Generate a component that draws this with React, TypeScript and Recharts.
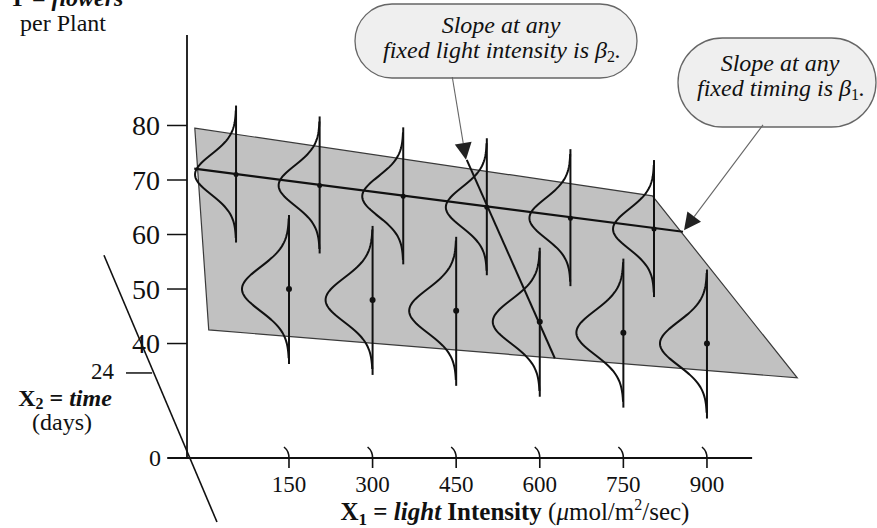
import { ComposedChart, Scatter, XAxis, YAxis, ReferenceLine } from "recharts";

const SERIF = '"Liberation Serif", "Times New Roman", serif';
const INK = "#111111";

// light intensity levels (X1) and flower axis ticks
const lightLevels = [150, 300, 450, 600, 750, 900];
const flowerTicks = [40, 50, 60, 70, 80];

// mean flowers per plant, front row (X2 = 0 days)
const meansLate = [50, 48, 46, 44, 42, 40];
// mean flowers per plant, back row (X2 = 24 days), read against the Y axis
const meansEarly = [71, 69, 67, 65, 63, 61];
// perspective shift of the back row along the light axis
const DEPTH_SHIFT = -95;

// outline of the shaded regression plane in the projected view
const planeLight = [-19, 802, 1062, 6];
const planeFlowers = [79.5, 67.1, 33.7, 42.5];

// line of means for the back row (slope beta1)
const earlyLineLight = [75, 952];
const earlyLineFlowers = [72.1, 60.5];

// line across time at light 600 (slope beta2), projected view
const timeLineLight = [469, 627];
const timeLineFlowers = [73.7, 37.3];

const frontRow = lightLevels.map((l, i) => ({ x: l, y: meansLate[i] }));
const backRow = lightLevels.map((l, i) => ({ x: l + DEPTH_SHIFT, y: meansEarly[i] }));
const planeData = planeLight.map((l, i) => ({ x: l, y: planeFlowers[i] }));
const earlyLine = earlyLineLight.map((l, i) => ({ x: l + DEPTH_SHIFT, y: earlyLineFlowers[i] }));
const timeLine = timeLineLight.map((l, i) => ({ x: l, y: timeLineFlowers[i] }));

// bell-shaped error distribution drawn around each mean
const bell = (amp: number, spread: number, above: number, below: number, dotR: number) =>
  (props: any) => {
    const { cx, cy } = props;
    const pts: string[] = [];
    for (let t = -3.2 * spread; t <= 3.2 * spread; t += 1.5) {
      pts.push(`${cx - amp * Math.exp(-(t * t) / (2 * spread * spread))},${cy + t}`);
    }
    return (
      <g>
        <line x1={cx} y1={cy - above} x2={cx} y2={cy + below} stroke={INK} strokeWidth={2} />
        <polyline points={pts.join(" ")} fill="none" stroke={INK} strokeWidth={2} />
        <circle cx={cx} cy={cy} r={dotR} fill={INK} />
      </g>
    );
  };

const noMark = () => <g />;

const planeShape = (props: any) => {
  const d = props.points.map((p: any, i: number) => `${i ? "L" : "M"}${p.x},${p.y}`).join(" ") + "Z";
  return <path d={d} fill="#c1c1c1" stroke="#3a3a3a" strokeWidth={1.2} />;
};

const arrowShape = (props: any) => {
  const { x1, y1, x2, y2 } = props;
  const a = Math.atan2(y2 - y1, x2 - x1);
  const len = 17;
  const w = 8.5;
  const bx = x2 - len * Math.cos(a);
  const by = y2 - len * Math.sin(a);
  const px = -Math.sin(a) * w;
  const py = Math.cos(a) * w;
  return (
    <g>
      <line x1={x1} y1={y1} x2={bx} y2={by} stroke="#666" strokeWidth={1.1} />
      <path d={`M${x2},${y2} L${bx + px},${by + py} L${bx - px},${by - py} Z`} fill="#222" />
    </g>
  );
};

const LightTick = (props: any) => {
  const { x, y, payload } = props;
  return (
    <g>
      <path d={`M${x - 5},${y - 11} Q${x},${y - 7} ${x},${y} L${x},${y + 10}`} fill="none" stroke={INK} strokeWidth={1.6} />
      <text x={x} y={y + 34} textAnchor="middle" fontSize={23} fontFamily={SERIF} fill={INK}>
        {payload.value}
      </text>
    </g>
  );
};

function Callout({ x, y, w, h, children }: { x: number; y: number; w: number; h: number; children: any }) {
  return (
    <g>
      <rect x={x} y={y} width={w} height={h} rx={h / 2} fill="#efefef" stroke="#666" strokeWidth={1.3} />
      {children}
    </g>
  );
}

export default function App() {
  return (
    <div style={{ position: "absolute", left: 0, top: 0, background: "#fff" }}>
      <ComposedChart width={877} height={528} margin={{ top: 35, right: 0, bottom: 0, left: 0 }}>
        <XAxis
          type="number"
          dataKey="x"
          domain={[-33, 1205.1]}
          allowDataOverflow
          ticks={lightLevels}
          interval={0}
          height={70}
          axisLine={false}
          tickLine={false}
          tickSize={0}
          tickMargin={0}
          tick={<LightTick />}
        />
        <YAxis
          type="number"
          dataKey="y"
          domain={[19, 96.6]}
          allowDataOverflow
          ticks={flowerTicks}
          interval={0}
          width={187}
          tickSize={20}
          tickMargin={7}
          axisLine={{ stroke: INK, strokeWidth: 1.8 }}
          tickLine={{ stroke: INK, strokeWidth: 1.5 }}
          tick={{ fontSize: 28, fontFamily: SERIF, fill: INK }}
        />

        <Scatter data={planeData} shape={noMark} line={planeShape} isAnimationActive={false} />
        <Scatter data={backRow} shape={bell(41, 20, 69, 68, 2.5)} isAnimationActive={false} />
        <Scatter data={frontRow} shape={bell(47, 22, 74, 75, 3)} isAnimationActive={false} />
        <Scatter data={earlyLine} shape={noMark} line={{ stroke: INK, strokeWidth: 2.2 }} isAnimationActive={false} />
        <Scatter data={timeLine} shape={noMark} line={{ stroke: INK, strokeWidth: 2 }} isAnimationActive={false} />

        {/* light axis line */}
        <ReferenceLine segment={[{ x: -68.5, y: 19 }, { x: 981, y: 19 }]} ifOverflow="visible" stroke={INK} strokeWidth={1.8} />
        {/* time axis drawn in perspective */}
        <ReferenceLine segment={[{ x: -182, y: 56.2 }, { x: 20.8, y: 7.25 }]} ifOverflow="visible" stroke={INK} strokeWidth={1.6} />
        <ReferenceLine segment={[{ x: -142.5, y: 34.6 }, { x: -95.6, y: 34.6 }]} ifOverflow="visible" stroke={INK} strokeWidth={1.5} />

        {/* callout pointers */}
        <ReferenceLine segment={[{ x: 443, y: 88.9 }, { x: 467.6, y: 73.7 }]} ifOverflow="visible" shape={arrowShape} />
        <ReferenceLine segment={[{ x: 1000.5, y: 80.1 }, { x: 858.8, y: 60.8 }]} ifOverflow="visible" shape={arrowShape} />

        <g fontFamily={SERIF} fill={INK}>
          <text x={66} y={6} textAnchor="middle" fontSize={24}>
            <tspan fontWeight="bold">Y</tspan>
            <tspan> = </tspan>
            <tspan fontStyle="italic" fontWeight="bold">flowers</tspan>
          </text>
          <text x={63} y={31} textAnchor="middle" fontSize={24}>per Plant</text>

          <text x={114} y={379} textAnchor="end" fontSize={23}>24</text>
          <text x={65} y={406} textAnchor="middle" fontSize={24} fontWeight="bold">
            <tspan>X</tspan>
            <tspan fontSize={16} dy={3}>2</tspan>
            <tspan dy={-3}> = </tspan>
            <tspan fontStyle="italic">time</tspan>
          </text>
          <text x={62} y={430} textAnchor="middle" fontSize={24}>(days)</text>
          <text x={161} y={466} textAnchor="end" fontSize={24}>0</text>

          <text x={515} y={520} textAnchor="middle" fontSize={25}>
            <tspan fontWeight="bold">X</tspan>
            <tspan fontWeight="bold" fontSize={17} dy={5}>1</tspan>
            <tspan fontWeight="bold" dy={-5}> = </tspan>
            <tspan fontWeight="bold" fontStyle="italic">light</tspan>
            <tspan fontWeight="bold"> Intensity</tspan>
            <tspan> (</tspan>
            <tspan fontStyle="italic">μ</tspan>
            <tspan>mol/m</tspan>
            <tspan fontSize={16} dy={-10}>2</tspan>
            <tspan dy={10}>/sec)</tspan>
          </text>

          <Callout x={355} y={4} w={282} h={74}>
            <text x={501} y={33} textAnchor="middle" fontSize={24} fontStyle="italic">Slope at any</text>
            <text x={502} y={58} textAnchor="middle" fontSize={24} fontStyle="italic">
              <tspan>fixed light intensity is </tspan>
              <tspan>β</tspan>
              <tspan fontSize={16} dy={4} fontStyle="normal">2</tspan>
              <tspan dy={-4}>.</tspan>
            </text>
          </Callout>
          <Callout x={678} y={38} w={198} h={89}>
            <text x={780} y={71} textAnchor="middle" fontSize={24} fontStyle="italic">Slope at any</text>
            <text x={781} y={96} textAnchor="middle" fontSize={24} fontStyle="italic">
              <tspan>fixed timing is </tspan>
              <tspan>β</tspan>
              <tspan fontSize={16} dy={4} fontStyle="normal">1</tspan>
              <tspan dy={-4}>.</tspan>
            </text>
          </Callout>
        </g>
      </ComposedChart>
    </div>
  );
}
